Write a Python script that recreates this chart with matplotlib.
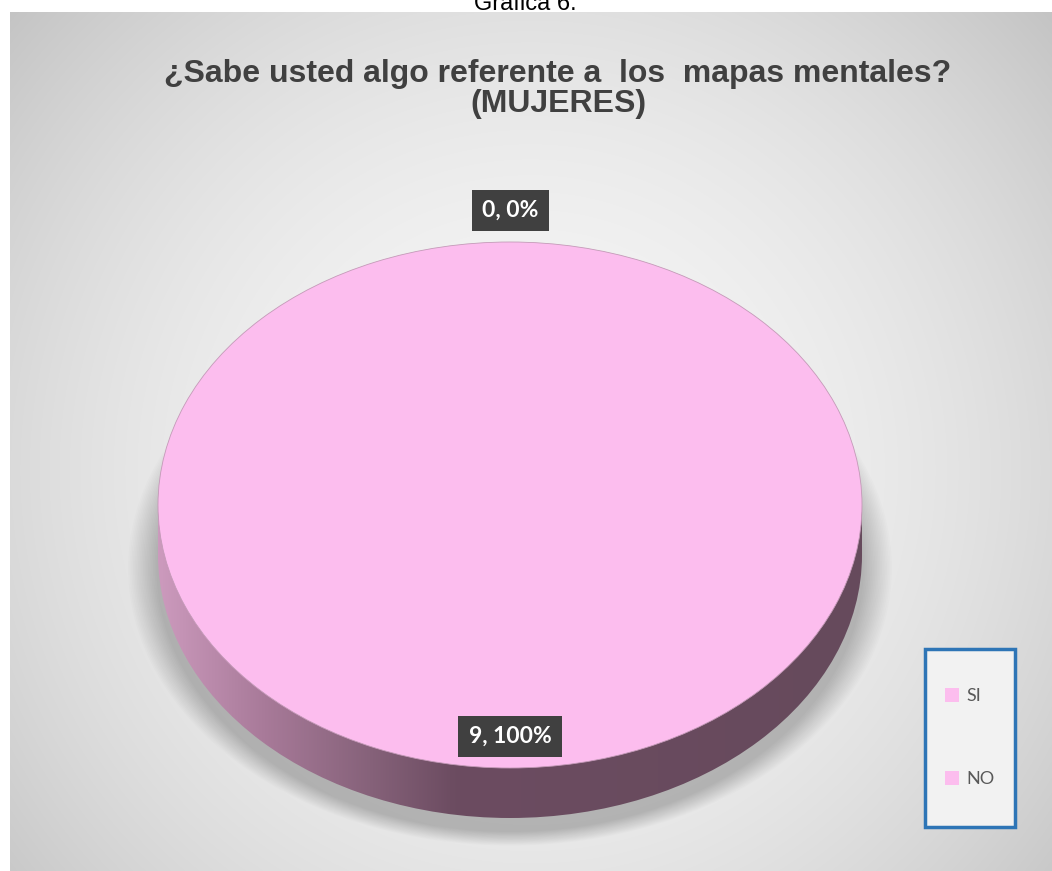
import numpy as np
import matplotlib.pyplot as plt
from matplotlib.colors import LinearSegmentedColormap
from matplotlib.patches import Circle, Rectangle, Ellipse

# data
categories = ["SI", "NO"]
counts = [0, 9]
title = "¿Sabe usted algo referente a  los  mapas mentales?\n(MUJERES)"
caption = "Gráfica 6."

pink = "#FCBDEE"
W, H = 1052, 871

fig = plt.figure(figsize=(W / 100, H / 100), dpi=100)
fig.patch.set_facecolor("white")

# grey radial background of the chart area
top = 12
bg = fig.add_axes([10 / W, 0, (W - 10) / W, (H - top) / H])
yy, xx = np.mgrid[top:H, 10:W]
r = np.hypot(xx - 530, yy - 470)
v = np.clip(0.965 - 0.2 * (r / 700) ** 2, 0, 1)
bg.imshow(np.dstack([v, v, v]), aspect="auto", interpolation="bilinear")
bg.axis("off")

# pie axes, top ellipse placed at (cx, cy) with radii rx, ry in pixels
cx, cy, rx, ry = 510, 505, 352, 263
ax = fig.add_axes([0, 0, 1, 1])
ax.patch.set_alpha(0)

wedges, _ = ax.pie(counts, colors=[pink] * len(counts), startangle=90,
                   counterclock=False,
                   wedgeprops=dict(linewidth=0.6, edgecolor="#c49ab8"))
for w in wedges:
    w.set_zorder(3)

depth = 50 / ry

# soft shadow under the cylinder
n = 18
for i in range(n):
    f = 1 - i / n
    sh = Ellipse((0, -depth - 0.05), 2 * (1.0 + 0.085 * f), 2 * (1.0 + 0.055 * f),
                 facecolor="black", edgecolor="none", alpha=0.013, zorder=0.5)
    ax.add_patch(sh)

# side of the 3D pie
side_cmap = LinearSegmentedColormap.from_list(
    "side", [(0, "#cc9abd"), (0.15, "#a87a99"), (0.3, "#86627a"),
             (0.42, "#6c4c61"), (1, "#664a5c")])
grad = np.linspace(0, 1, 256)[None, :]
for clip in [Circle((0, -depth), 1, transform=ax.transData),
             Rectangle((-1, -depth), 2, depth, transform=ax.transData)]:
    im = ax.imshow(grad, cmap=side_cmap, extent=(-1, 1, -1 - depth, 0),
                   aspect="auto", zorder=2)
    im.set_clip_path(clip)

# data labels
total = sum(counts)
for w, c in zip(wedges, counts):
    ang = np.deg2rad((w.theta1 + w.theta2) / 2)
    rad = 1.12 if c == 0 else 0.88
    ax.text(rad * np.cos(ang), rad * np.sin(ang), f"{c}, {c / total:.0%}",
            ha="center", va="center", color="white", fontsize=16.5,
            fontweight="bold", family="Lato", zorder=6,
            bbox=dict(boxstyle="square,pad=0.45", facecolor="#404040",
                      edgecolor="none"))

ax.set_aspect("auto")
ax.set_xlim(-cx / rx, (W - cx) / rx)
ax.set_ylim(-(H - cy) / ry, cy / ry)
ax.axis("off")

# titles
fig.text(525 / W, 1 - 10 / H, caption, ha="center", va="baseline",
         fontsize=17, family="Liberation Sans", color="black")
fig.text(558 / W, 1 - 89 / H, title, ha="center", va="center", fontsize=23,
         fontweight="bold", family="Liberation Sans", color="#404040",
         linespacing=1.0)

# legend
fig.add_artist(Rectangle((925 / W, 1 - 827 / H), 90 / W, 178 / H,
                         transform=fig.transFigure, facecolor="#f2f2f2",
                         edgecolor="#2E75B6", linewidth=2.5, zorder=4))
leg = fig.legend(wedges, categories, loc="center left",
                 bbox_to_anchor=(945 / W, 1 - 737.5 / H), frameon=False,
                 borderpad=0, borderaxespad=0, labelspacing=3.7,
                 handlelength=0.8, handleheight=0.8, handletextpad=0.4,
                 prop={"family": "Lato", "size": 13}, labelcolor="#595959")
for h in leg.legend_handles:
    h.set_edgecolor("none")

fig.savefig("out.png", dpi=100)
